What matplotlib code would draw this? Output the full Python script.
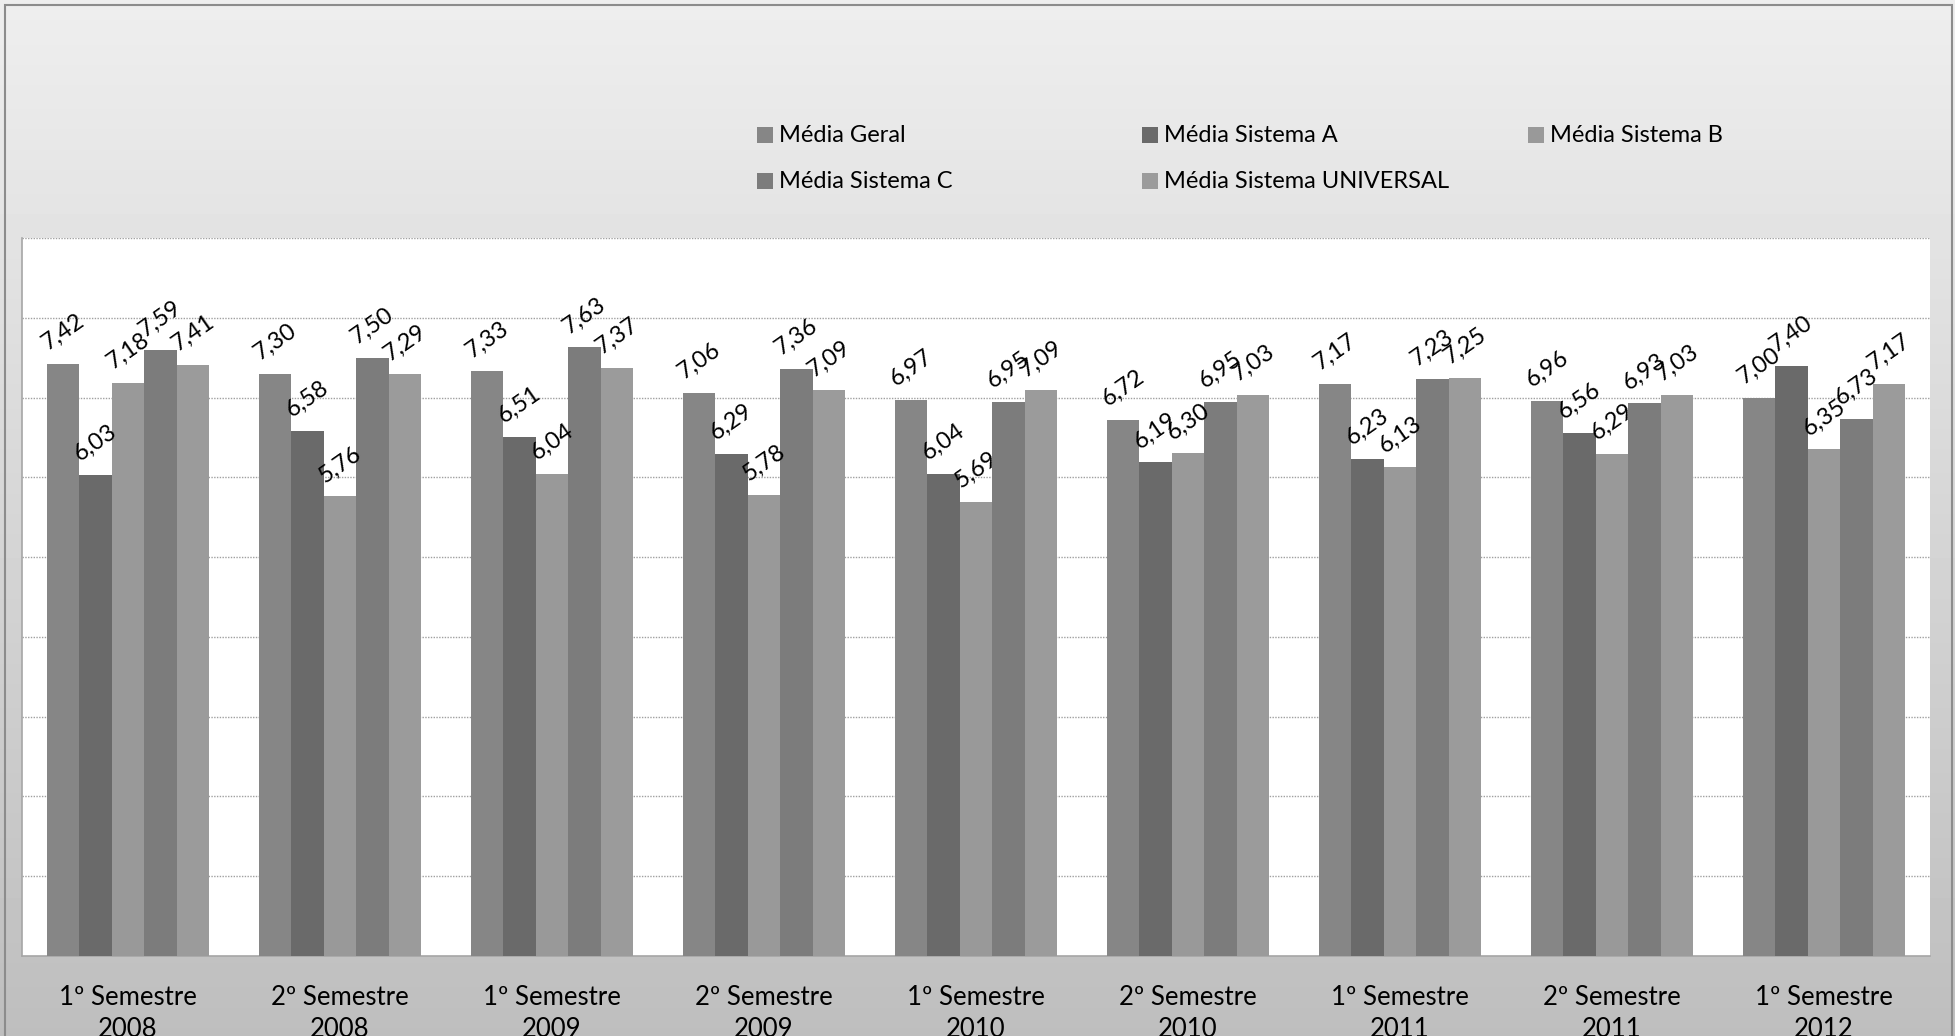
import numpy as np
import matplotlib
matplotlib.use("Agg")
import matplotlib.pyplot as plt
from matplotlib.patches import Rectangle

plt.rcParams['font.family'] = ['Lato', 'DejaVu Sans']

categories = ["1º Semestre\n2008", "2º Semestre\n2008", "1º Semestre\n2009",
              "2º Semestre\n2009", "1º Semestre\n2010", "2º Semestre\n2010",
              "1º Semestre\n2011", "2º Semestre\n2011", "1º Semestre\n2012"]
series_names = ["Média Geral", "Média Sistema A", "Média Sistema B",
                "Média Sistema C", "Média Sistema UNIVERSAL"]
media_geral = [7.42, 7.30, 7.33, 7.06, 6.97, 6.72, 7.17, 6.96, 7.00]
media_a = [6.03, 6.58, 6.51, 6.29, 6.04, 6.19, 6.23, 6.56, 7.40]
media_b = [7.18, 5.76, 6.04, 5.78, 5.69, 6.30, 6.13, 6.29, 6.35]
media_c = [7.59, 7.50, 7.63, 7.36, 6.95, 6.95, 7.23, 6.93, 6.73]
media_u = [7.41, 7.29, 7.37, 7.09, 7.09, 7.03, 7.25, 7.03, 7.17]
series_values = [media_geral, media_a, media_b, media_c, media_u]
colors = ["#868686", "#6a6a6a", "#999999", "#7c7c7c", "#9b9b9b"]

W, H = 1955, 1036
fig = plt.figure(figsize=(W / 100, H / 100), dpi=100)

# background gradient
bg = fig.add_axes([0, 0, 1, 1], zorder=-10)
grad = np.linspace(238, 190, 256).reshape(-1, 1) / 255.0
bg.imshow(np.repeat(grad, 2, axis=1), cmap="gray", vmin=0, vmax=1,
          aspect="auto", extent=[0, 1, 0, 1], origin="upper")
bg.set_xlim(0, 1)
bg.set_ylim(0, 1)
bg.axis("off")
# outer chart border (continues beyond bottom edge)
bg.add_patch(Rectangle((5 / W, -0.05), (W - 8) / W, 1 - 5 / H + 0.05,
                       fill=False, edgecolor="#8c8c8c", linewidth=1.5))

# plot area
left, right = 22 / W, 1930 / W
top, bottom = 1 - 238 / H, 1 - 956 / H
ax = fig.add_axes([left, bottom, right - left, top - bottom])
ax.set_facecolor("white")

n = len(series_values)
x = np.arange(len(categories))
bw = 0.153
for i, (vals, col) in enumerate(zip(series_values, colors)):
    xs = x + (i - (n - 1) / 2) * bw
    ax.bar(xs, vals, width=bw, color=col, zorder=3, label=series_names[i])
    for xi, v in zip(xs, vals):
        ax.annotate(f"{v:.2f}".replace(".", ","), (xi, v), xytext=(0, 23),
                    textcoords="offset points", ha="center", va="center",
                    rotation=35, fontsize=17, color="black", zorder=5)

ax.set_xlim(-0.5, len(categories) - 0.5)
ax.set_ylim(0, 9)
ax.set_yticks(np.arange(1, 10))
ax.yaxis.set_tick_params(length=0, labelleft=False)
ax.grid(axis="y", color="#a0a0a0", linestyle=(0, (1, 1)), linewidth=1.0, zorder=0)
ax.set_xticks(x)
ax.set_xticklabels(categories, fontsize=18.5, linespacing=1.35)
ax.tick_params(axis="x", length=0, pad=21)
for s in ["top", "right"]:
    ax.spines[s].set_visible(False)
for s in ["left", "bottom"]:
    ax.spines[s].set_color("#a6a6a6")
    ax.spines[s].set_linewidth(1.2)

# legend (manual, 3 columns x 2 rows)
col_x = [757, 1142, 1528]
row_y = [135, 181]
for i, name in enumerate(series_names):
    cx = col_x[i % 3]
    cy = row_y[i // 3]
    fig.patches.append(Rectangle((cx / W, 1 - (cy + 8) / H), 16 / W, 16 / H,
                                 transform=fig.transFigure, facecolor=colors[i],
                                 edgecolor="none"))
    fig.text((cx + 22) / W, 1 - cy / H, name, fontsize=17, va="center",
             ha="left", color="black")

fig.savefig("out.png", dpi=100)
